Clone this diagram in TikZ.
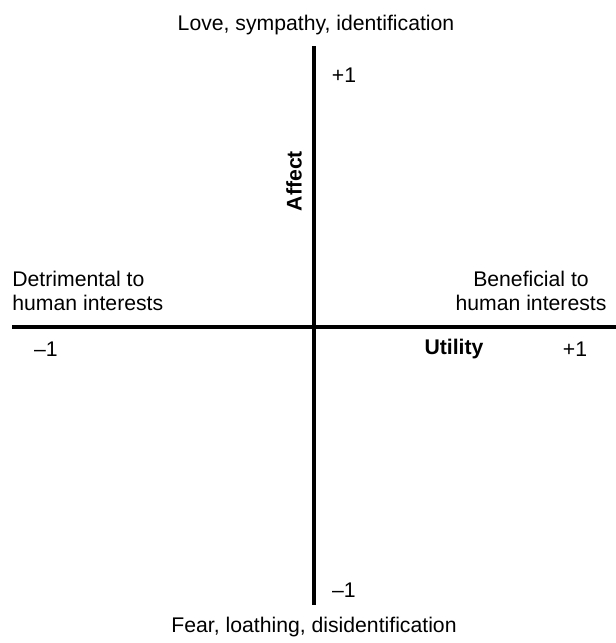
\documentclass[tikz,border=0pt]{standalone}
\usepackage{fontspec}
\setmainfont{Liberation Sans}
\tikzset{
  axis/.style={black, line width=2pt},
  lbl/.style={inner sep=0pt, font=\fontsize{10.6}{12.2}\selectfont},
}
\begin{document}
\begin{tikzpicture}[x=0.5pt, y=-0.5pt]
    \useasboundingbox (0,0) rectangle (616,643);
    \coordinate (t) at (314,46); \coordinate (b) at (314,605);
    \coordinate (l) at (12,327); \coordinate (r) at (616,327);

    % Axes
    \draw[axis] (t)--(b);
    \draw[axis] (l)--(r);

    % Affect axis
    \node[lbl] (love) at (316,25) {Love, sympathy, identification};
    \node[lbl] (fear) at (314,627) {Fear, loathing, disidentification};
    \node[lbl] (ptop) at (344,75) {+1};
    \node[lbl] (mbot) at (344,590) {\textendash1};
    \node[lbl, font=\fontsize{10.6}{12.2}\selectfont\bfseries, rotate=90] (aff) at (294,181) {Affect};

    % Utility axis
    \node[lbl, anchor=west, align=left] (detr) at (12,291) {Detrimental to\\human interests};
    \node[lbl, align=center] (bene) at (531,291) {Beneficial to\\human interests};
    \node[lbl] (mleft) at (46,349) {\textendash1};
    \node[lbl, font=\fontsize{10.6}{12.2}\selectfont\bfseries] (util) at (454,349) {Utility};
    \node[lbl] (pright) at (575,349) {+1};
\end{tikzpicture}
\end{document}
